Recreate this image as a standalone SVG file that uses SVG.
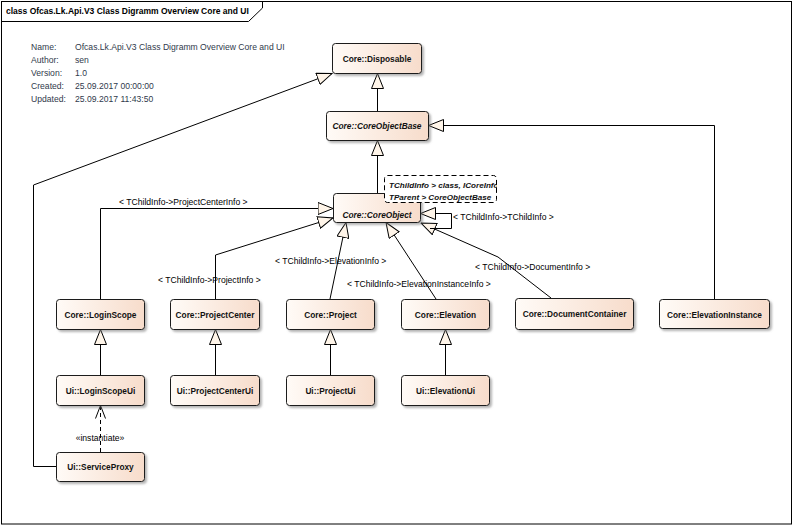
<svg xmlns="http://www.w3.org/2000/svg" width="794" height="526" viewBox="0 0 794 526">
<style>
.frame{fill:none;stroke:#000;stroke-width:1}
.node{fill:url(#ng);stroke:#1a1a1a;stroke-width:1;filter:url(#sh)}
.nt{font-family:"Liberation Sans",Arial,sans-serif;font-size:8.3px;font-weight:bold;fill:#111;text-anchor:middle}
.it{font-style:italic}
.lbl{font-family:"Liberation Sans",Arial,sans-serif;font-size:8.6px;fill:#000}
.meta{font-family:"Liberation Sans",Arial,sans-serif;font-size:8.6px;fill:#303a4c}
.title{font-family:"Liberation Sans",Arial,sans-serif;font-size:8.5px;font-weight:bold;fill:#000}
.c{fill:none;stroke:#000;stroke-width:1}
.gen{marker-end:url(#gen)}
.dep{stroke-dasharray:4,3;marker-end:url(#open)}
.tp{font-family:"Liberation Sans",Arial,sans-serif;font-size:8.1px;font-weight:bold;font-style:italic;fill:#111}
</style>
<defs>
<linearGradient id="ng" x1="0" y1="0" x2="1" y2="0">
<stop offset="0" stop-color="#fffbf7"/>
<stop offset="1" stop-color="#f7dccb"/>
</linearGradient>
<filter id="sh" x="-10%" y="-10%" width="130%" height="140%">
<feDropShadow dx="2" dy="2" stdDeviation="1" flood-color="#777" flood-opacity="0.55"/>
</filter>
<marker id="gen" markerUnits="userSpaceOnUse" viewBox="0 0 16 13" markerWidth="16" markerHeight="13" refX="15.5" refY="6.5" orient="auto">
<path d="M0.5,0.5 L15.5,6.5 L0.5,12.5 Z" fill="#fff5e9" stroke="#000" stroke-width="1"/>
</marker>
<marker id="open" markerUnits="userSpaceOnUse" viewBox="0 0 14 12" markerWidth="14" markerHeight="12" refX="13" refY="6" orient="auto">
<path d="M0,1 L13,6 L0,11" fill="none" stroke="#000" stroke-width="1"/>
</marker>
<clipPath id="tpclip"><rect x="384" y="175" width="113" height="28"/></clipPath>
</defs>
<rect width="794" height="526" fill="#fff"/>
<g id="frame">
<rect class="frame" x="1.5" y="1.5" width="790" height="522.5"/>
<path class="frame" d="M1.5,21.5 H248.5 L262.5,8 V1.5"/>
<text class="title" x="6" y="14">class Ofcas.Lk.Api.V3 Class Digramm Overview Core and UI</text>
</g>
<g id="notes">
<text class="meta" x="31" y="50">Name:</text><text class="meta" x="75" y="50">Ofcas.Lk.Api.V3 Class Digramm Overview Core and UI</text>
<text class="meta" x="31" y="63">Author:</text><text class="meta" x="75" y="63">sen</text>
<text class="meta" x="31" y="76">Version:</text><text class="meta" x="75" y="76">1.0</text>
<text class="meta" x="31" y="89">Created:</text><text class="meta" x="75" y="89">25.09.2017 00:00:00</text>
<text class="meta" x="31" y="102">Updated:</text><text class="meta" x="75" y="102">25.09.2017 11:43:50</text>
</g>
<g id="connectors">
<path class="c gen" d="M377.5,111 V73.5"/>
<path class="c gen" d="M377.5,193 V140.5"/>
<path class="c gen" d="M714.5,299 V125.5 H428.5"/>
<path class="c gen" d="M56,466.5 H33.5 V185 L332,73.5"/>
<path class="c gen" d="M100.5,299 V208.5 H333"/>
<path class="c gen" d="M215.5,299 V255 L333,218"/>
<path class="c gen" d="M330,299 L346,222.5"/>
<path class="c gen" d="M436,299 L386,222.5"/>
<path class="c gen" d="M551,298 L498,257 L421,223"/>
<path class="c gen" d="M430,228.5 H451.5 V213.5 H420.5"/>
<path class="c gen" d="M100.5,375 V329.5"/>
<path class="c gen" d="M215.5,375 V329.5"/>
<path class="c gen" d="M330.5,375 V329.5"/>
<path class="c gen" d="M445.5,375 V329.5"/>
<path class="c dep" d="M100.5,452 V405.5"/>
<text class="lbl" x="119" y="205">&lt; TChildInfo-&gt;ProjectCenterInfo &gt;</text>
<text class="lbl" x="158" y="283">&lt; TChildInfo-&gt;ProjectInfo &gt;</text>
<text class="lbl" x="275" y="264">&lt; TChildInfo-&gt;ElevationInfo &gt;</text>
<text class="lbl" x="347" y="287">&lt; TChildInfo-&gt;ElevationInstanceInfo &gt;</text>
<text class="lbl" x="475" y="270">&lt; TChildInfo-&gt;DocumentInfo &gt;</text>
<text class="lbl" x="453" y="220">&lt; TChildInfo-&gt;TChildInfo &gt;</text>
<text class="lbl" x="100" y="441" text-anchor="middle">«instantiate»</text>
</g>
<g id="Disposable"><rect class="node" x="332.5" y="43.5" width="89" height="30" rx="3"/><text class="nt" x="377" y="61.5">Core::Disposable</text></g>
<g id="CoreObjectBase"><rect class="node" x="326.5" y="111.5" width="102" height="29" rx="3"/><text class="nt it" x="377" y="129">Core::CoreObjectBase</text></g>
<g id="CoreObject"><rect class="node" x="333.5" y="193.5" width="87" height="29" rx="3"/><text class="nt it" x="377" y="218">Core::CoreObject</text></g>
<g id="TemplateParams">
<rect x="384.5" y="175.5" width="112" height="27" rx="3" fill="#fff" stroke="#000" stroke-width="1" stroke-dasharray="5,3"/>
<g clip-path="url(#tpclip)">
<text class="tp" x="389" y="188">TChildInfo &gt; class, ICoreInfo</text>
<text class="tp" x="389" y="200">TParent &gt; CoreObjectBase</text>
</g>
</g>
<g id="LoginScope"><rect class="node" x="56.5" y="299.5" width="88" height="30" rx="3"/><text class="nt" x="100.5" y="317.5">Core::LoginScope</text></g>
<g id="ProjectCenter"><rect class="node" x="170.5" y="299.5" width="89" height="30" rx="3"/><text class="nt" x="215" y="317.5">Core::ProjectCenter</text></g>
<g id="Project"><rect class="node" x="286.5" y="299.5" width="88" height="30" rx="3"/><text class="nt" x="330.5" y="317.5">Core::Project</text></g>
<g id="Elevation"><rect class="node" x="401.5" y="299.5" width="88" height="30" rx="3"/><text class="nt" x="445.5" y="317.5">Core::Elevation</text></g>
<g id="DocumentContainer"><rect class="node" x="515.5" y="298.5" width="118" height="31" rx="3"/><text class="nt" x="574.5" y="317">Core::DocumentContainer</text></g>
<g id="ElevationInstance"><rect class="node" x="659.5" y="299.5" width="110" height="29" rx="3"/><text class="nt" x="714.5" y="317.5">Core::ElevationInstance</text></g>
<g id="LoginScopeUi"><rect class="node" x="56.5" y="375.5" width="88" height="30" rx="3"/><text class="nt" x="100.5" y="393.5">Ui::LoginScopeUi</text></g>
<g id="ProjectCenterUi"><rect class="node" x="170.5" y="375.5" width="89" height="30" rx="3"/><text class="nt" x="215" y="393.5">Ui::ProjectCenterUi</text></g>
<g id="ProjectUi"><rect class="node" x="286.5" y="375.5" width="88" height="30" rx="3"/><text class="nt" x="330.5" y="393.5">Ui::ProjectUi</text></g>
<g id="ElevationUi"><rect class="node" x="401.5" y="375.5" width="88" height="30" rx="3"/><text class="nt" x="445.5" y="393.5">Ui::ElevationUi</text></g>
<g id="ServiceProxy"><rect class="node" x="56.5" y="452.5" width="88" height="29" rx="3"/><text class="nt" x="100.5" y="470">Ui::ServiceProxy</text></g>
</svg>
